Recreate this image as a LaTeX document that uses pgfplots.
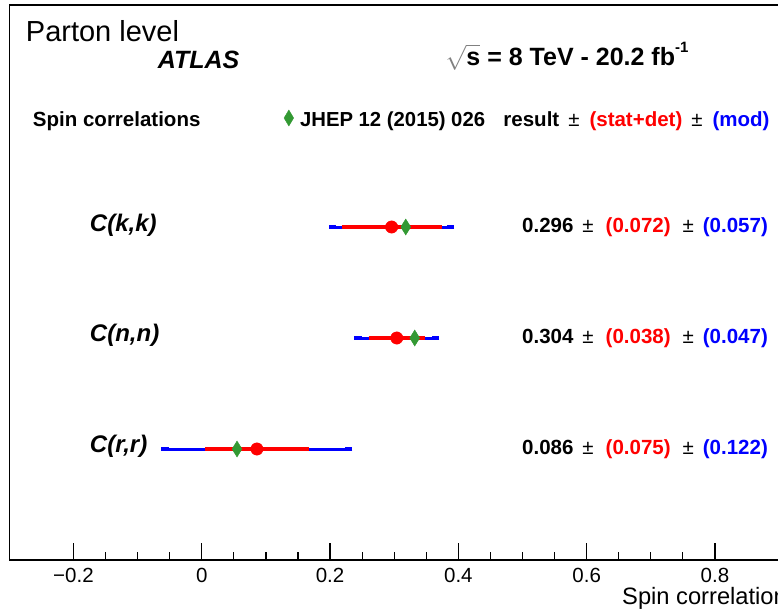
\documentclass[border=0pt]{standalone}
\usepackage{fontspec}
\setmainfont{Liberation Sans}
\usepackage{pgfplots}
\pgfplotsset{compat=1.18}
\definecolor{rootgreen}{RGB}{51,153,51}
\definecolor{rootred}{RGB}{255,0,0}
\definecolor{rootblue}{RGB}{0,0,255}
\newcommand{\fs}[1]{\fontsize{#1}{#1}\selectfont}

\begin{document}
\begin{tikzpicture}
\useasboundingbox (-9.3pt,-48pt) rectangle (768.7pt,560pt);
\clip (-9.3pt,-48pt) rectangle (768.7pt,560pt);
\begin{axis}[
  scale only axis, width=769.8pt, height=555pt,
  xmin=-0.3, xmax=0.9, ymin=0, ymax=5,
  axis line style={line width=1.2pt},
  ytick=\empty,
  xtick={-0.2,0,0.2,0.4,0.6,0.8},
  xticklabels={−0.2,0,0.2,0.4,0.6,0.8},
  minor x tick num=3,
  xtick pos=bottom,
  major tick length=17pt, minor tick length=8.5pt,
  tick style={black, line width=1.2pt},
  xticklabel style={font=\fs{20.5}, anchor=base, yshift=-22.3pt},
  xlabel={Spin correlation},
  xlabel style={at={(axis description cs:1,0)}, anchor=base east, yshift=-44pt, xshift=8pt, font=\fs{23.7}, inner sep=0pt},
  legend style={at={(axis cs:0.128,3.964)}, anchor=west, draw=none, fill=none, inner sep=0pt, font=\fs{20.3}\bfseries, legend cell align=left},
  legend image code/.code={\draw[mark=diamond*, mark size=8pt, mark options={xscale=0.8}] plot coordinates {(5pt,2pt)}; \path (14pt,0pt);},
  clip=false,
]
% total uncertainty (blue)
\addplot[draw=none, forget plot, error bars/.cd, x dir=both, x explicit,
  error bar style={draw=rootblue, line width=3pt},
  error mark options={draw=rootblue, line width=3.5pt, mark size=3.6pt}]
  coordinates {(0.296,3) +- (0.0918,0) (0.304,2) +- (0.0604,0) (0.086,1) +- (0.1432,0)};
% stat+det (red)
\addplot[draw=none, forget plot, error bars/.cd, x dir=both, x explicit,
  error bar style={draw=rootred, line width=3.8pt},
  error mark options={draw=rootred, line width=3.5pt, mark size=3.8pt}]
  coordinates {(0.296,3) +- (0.072,0) (0.304,2) +- (0.038,0) (0.086,1) +- (0.075,0)};
% measured values
\addplot[only marks, mark=*, mark size=6.2pt, color=rootred, forget plot]
  coordinates {(0.296,3) (0.304,2) (0.086,1)};
% prediction
\addplot[only marks, mark=diamond*, mark size=8pt, mark options={xscale=0.83}, color=rootgreen]
  coordinates {(0.318,3) (0.332,2) (0.055,1)};
\addlegendentry{JHEP 12 (2015) 026}

\node[anchor=base west, font=\fs{29}, inner sep=0pt] at (axis cs:-0.2744,4.667) {Parton level};
\node[anchor=base west, font=\fs{25}\bfseries\itshape, inner sep=0pt] at (axis cs:-0.0686,4.43) {ATLAS};
\node[anchor=base west, font=\fs{25}\bfseries, inner sep=0pt] at (axis cs:0.380,4.459)
  {{\color{gray}$\sqrt{\phantom{\mbox{s}}}$}\llap{s} = 8 TeV - 20.2 fb\raisebox{0.5em}{\fs{15}-1}};

\node[anchor=base west, font=\fs{20.5}\bfseries, inner sep=0pt] at (axis cs:-0.2634,3.904) {Spin correlations};
\node[anchor=base east, font=\fs{20.5}\bfseries, inner sep=0pt] at (axis cs:0.8854,3.904)
  {result\hspace{9pt}{\mdseries ±}\hspace{10pt}\textcolor{rootred}{(stat+det)}\hspace{9pt}{\mdseries ±}\hspace{10pt}\textcolor{rootblue}{(mod)}};

\node[anchor=base west, font=\fs{24}\bfseries\itshape, inner sep=0pt] at (axis cs:-0.1746,2.958) {C(k,k)};
\node[anchor=base west, font=\fs{24}\bfseries\itshape, inner sep=0pt] at (axis cs:-0.1746,1.964) {C(n,n)};
\node[anchor=base west, font=\fs{24}\bfseries\itshape, inner sep=0pt] at (axis cs:-0.1746,0.964) {C(r,r)};

\node[anchor=base east, font=\fs{20.5}\bfseries, inner sep=0pt] at (axis cs:0.8828,2.950)
  {0.296\hspace{9pt}{\mdseries ±}\hspace{12pt}\textcolor{rootred}{(0.072)}\hspace{12pt}{\mdseries ±}\hspace{9pt}\textcolor{rootblue}{(0.057)}};
\node[anchor=base east, font=\fs{20.5}\bfseries, inner sep=0pt] at (axis cs:0.8828,1.950)
  {0.304\hspace{9pt}{\mdseries ±}\hspace{12pt}\textcolor{rootred}{(0.038)}\hspace{12pt}{\mdseries ±}\hspace{9pt}\textcolor{rootblue}{(0.047)}};
\node[anchor=base east, font=\fs{20.5}\bfseries, inner sep=0pt] at (axis cs:0.8828,0.950)
  {0.086\hspace{9pt}{\mdseries ±}\hspace{12pt}\textcolor{rootred}{(0.075)}\hspace{12pt}{\mdseries ±}\hspace{9pt}\textcolor{rootblue}{(0.122)}};
\end{axis}
\end{tikzpicture}
\end{document}
